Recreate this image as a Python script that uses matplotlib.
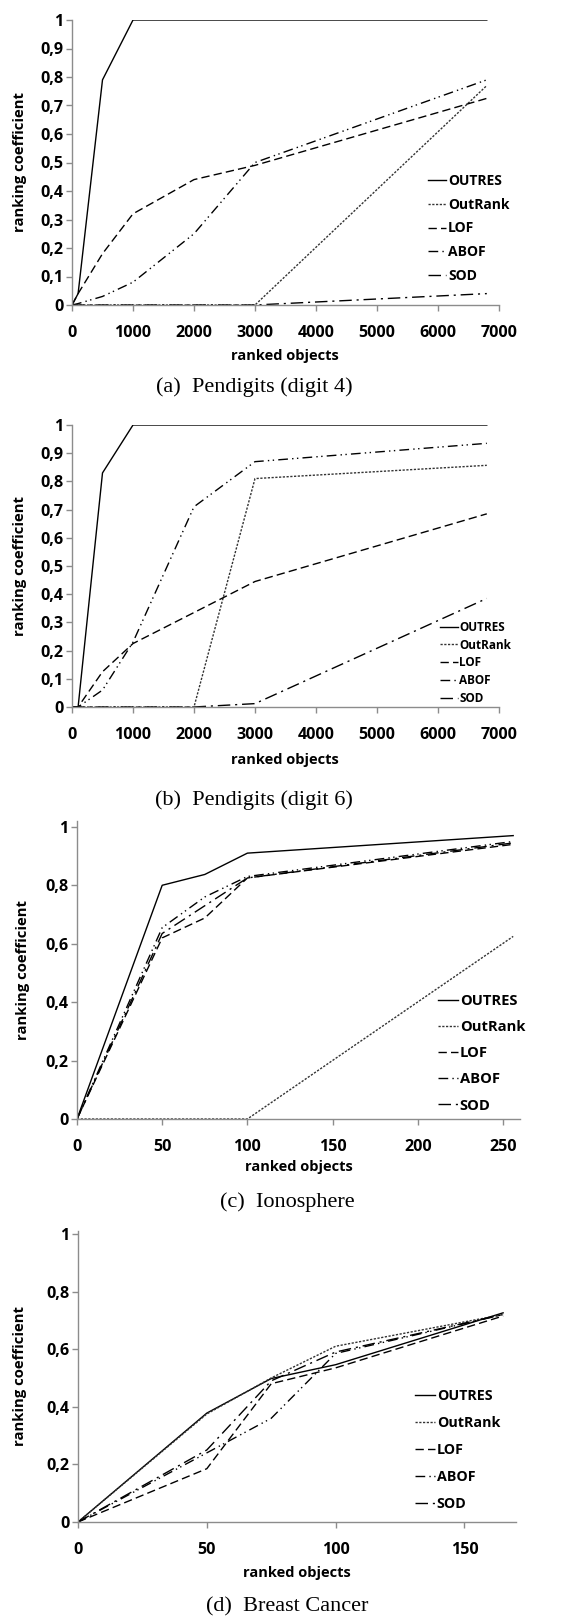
import numpy as np
import matplotlib
matplotlib.use("Agg")
import matplotlib.pyplot as plt
from matplotlib.ticker import FuncFormatter

W, H = 564, 1616
SANS = ["Open Sans", "DejaVu Sans"]
plt.rcParams["font.family"] = SANS
plt.rcParams["font.weight"] = "bold"

methods = ["OUTRES", "OutRank", "LOF", "ABOF", "SOD"]

# (a) Pendigits digit 4
x_a = [0, 100, 500, 1000, 2000, 3000, 6800]
outres_a = [0, 0.04, 0.79, 1.0, 1.0, 1.0, 1.0]
outrank_a = [0, 0, 0, 0, 0, 0, 0.77]
lof_a = [0, 0.04, 0.18, 0.32, 0.44, 0.49, 0.725]
abof_a = [0, 0.005, 0.03, 0.08, 0.25, 0.50, 0.79]
sod_a = [0, 0, 0, 0, 0, 0, 0.04]

# (b) Pendigits digit 6
x_b = [0, 100, 500, 1000, 2000, 3000, 6800]
outres_b = [0, 0, 0.83, 1.0, 1.0, 1.0, 1.0]
outrank_b = [0, 0, 0, 0, 0, 0.81, 0.857]
lof_b = [0, 0, 0.125, 0.225, 0.335, 0.445, 0.685]
abof_b = [0, 0, 0.06, 0.23, 0.71, 0.87, 0.935]
sod_b = [0, 0, 0, 0, 0, 0.012, 0.385]

# (c) Ionosphere
x_c = [0, 50, 75, 100, 256]
outres_c = [0, 0.80, 0.837, 0.91, 0.97]
outrank_c = [0, 0, 0, 0, 0.625]
lof_c = [0, 0.62, 0.688, 0.825, 0.94]
abof_c = [0, 0.655, 0.76, 0.83, 0.95]
sod_c = [0, 0.635, 0.73, 0.825, 0.945]

# (d) Breast Cancer
x_d = [0, 50, 75, 100, 165]
outres_d = [0, 0.378, 0.498, 0.546, 0.726]
outrank_d = [0, 0.375, 0.50, 0.61, 0.72]
lof_d = [0, 0.185, 0.48, 0.535, 0.715]
abof_d = [0, 0.24, 0.36, 0.585, 0.72]
sod_d = [0, 0.25, 0.49, 0.59, 0.72]

styles = {
    "OUTRES": dict(linestyle="-"),
    "OutRank": dict(linestyle=(0, (1.6, 1.1)), color="#333333"),
    "LOF": dict(linestyle=(0, (6, 3))),
    "ABOF": dict(linestyle=(0, (7, 3, 1, 2.5, 1, 3))),
    "SOD": dict(linestyle=(0, (9, 3.5, 1.5, 3.5))),
}

panels = [
    dict(x=x_a, ys=[outres_a, outrank_a, lof_a, abof_a, sod_a],
         rect=(72, 20, 499, 305), xlim=7000, ylim=1.0,
         xticks=np.arange(0, 7001, 1000), yticks=np.arange(0, 1.01, 0.1),
         leg=(428, 184, 10, 0.69, 1.3), xl=(285, 356), yl=20,
         cap="(a)  Pendigits (digit 4)", capxy=(254, 387)),
    dict(x=x_b, ys=[outres_b, outrank_b, lof_b, abof_b, sod_b],
         rect=(72, 425, 499, 707), xlim=7000, ylim=1.0,
         xticks=np.arange(0, 7001, 1000), yticks=np.arange(0, 1.01, 0.1),
         leg=(440, 629, 8.5, 0.41, 1.5), xl=(285, 760), yl=20,
         cap="(b)  Pendigits (digit 6)", capxy=(254, 800)),
    dict(x=x_c, ys=[outres_c, outrank_c, lof_c, abof_c, sod_c],
         rect=(77, 821, 520, 1119), xlim=260, ylim=1.02,
         xticks=np.arange(0, 251, 50), yticks=np.arange(0, 1.01, 0.2),
         leg=(438, 1004, 10.6, 0.83, 1.33), xl=(299, 1167), yl=23,
         cap="(c)  Ionosphere", capxy=(287, 1202)),
    dict(x=x_d, ys=[outres_d, outrank_d, lof_d, abof_d, sod_d],
         rect=(78, 1231, 516, 1522), xlim=170, ylim=1.01,
         xticks=np.arange(0, 151, 50), yticks=np.arange(0, 1.01, 0.2),
         leg=(415, 1399, 10.3, 0.91, 1.37), xl=(297, 1573), yl=20,
         cap="(d)  Breast Cancer", capxy=(287, 1607)),
]

fmt = FuncFormatter(lambda v, p: ("%g" % round(v, 2)).replace(".", ","))

fig = plt.figure(figsize=(W / 100, H / 100), dpi=100)
for p in panels:
    l, t, r, b = p["rect"]
    ax = fig.add_axes([l / W, 1 - b / H, (r - l) / W, (b - t) / H])
    for name, y in zip(methods, p["ys"]):
        st = dict(color="black", lw=1.0)
        st.update(styles[name])
        ax.plot(p["x"], y, label=name, **st)
    ax.set_xlim(0, p["xlim"])
    ax.set_ylim(0, p["ylim"])
    ax.set_xticks(p["xticks"])
    ax.set_yticks(p["yticks"])
    ax.yaxis.set_major_formatter(fmt)
    for s in ["top", "right"]:
        ax.spines[s].set_visible(False)
    for s in ["left", "bottom"]:
        ax.spines[s].set_color("#8c8c8c")
        ax.spines[s].set_linewidth(1.0)
    ax.tick_params(axis="both", colors="#8c8c8c", length=4, width=1.0,
                   labelcolor="black", labelsize=11.6)
    ax.tick_params(axis="x", pad=10.5)
    ax.tick_params(axis="y", pad=2)
    for lab in ax.get_xticklabels() + ax.get_yticklabels():
        lab.set_fontweight("bold")
    ax.set_xlabel("ranked objects", fontsize=10.5, fontweight="bold")
    ax.set_ylabel("ranking coefficient", fontsize=10.7, fontweight="bold")
    xlx, xly = p["xl"]
    ax.xaxis.set_label_coords(xlx / W, 1 - xly / H, transform=fig.transFigure)
    ax.xaxis.label.set_va("center")
    ax.yaxis.set_label_coords(p["yl"] / W, 1 - ((t + b) / 2) / H, transform=fig.transFigure)
    ax.yaxis.label.set_va("center")
    lx, ly, lfs, lsp, hl = p["leg"]
    fs_px = lfs * 100 / 72
    ax.legend(loc="upper left", bbox_to_anchor=(lx / W, 1 - (ly - fs_px * 0.7) / H),
              bbox_transform=fig.transFigure, frameon=False, borderpad=0,
              borderaxespad=0, handlelength=hl, handletextpad=0.15,
              labelspacing=lsp, prop=dict(family=SANS, weight="bold", size=lfs))
    cx, cy = p["capxy"]
    fig.text(cx / W, 1 - cy / H, p["cap"], ha="center", va="center",
             family=["Liberation Serif", "DejaVu Serif"], fontsize=16, fontweight="normal")

fig.savefig("out.png", dpi=100)
